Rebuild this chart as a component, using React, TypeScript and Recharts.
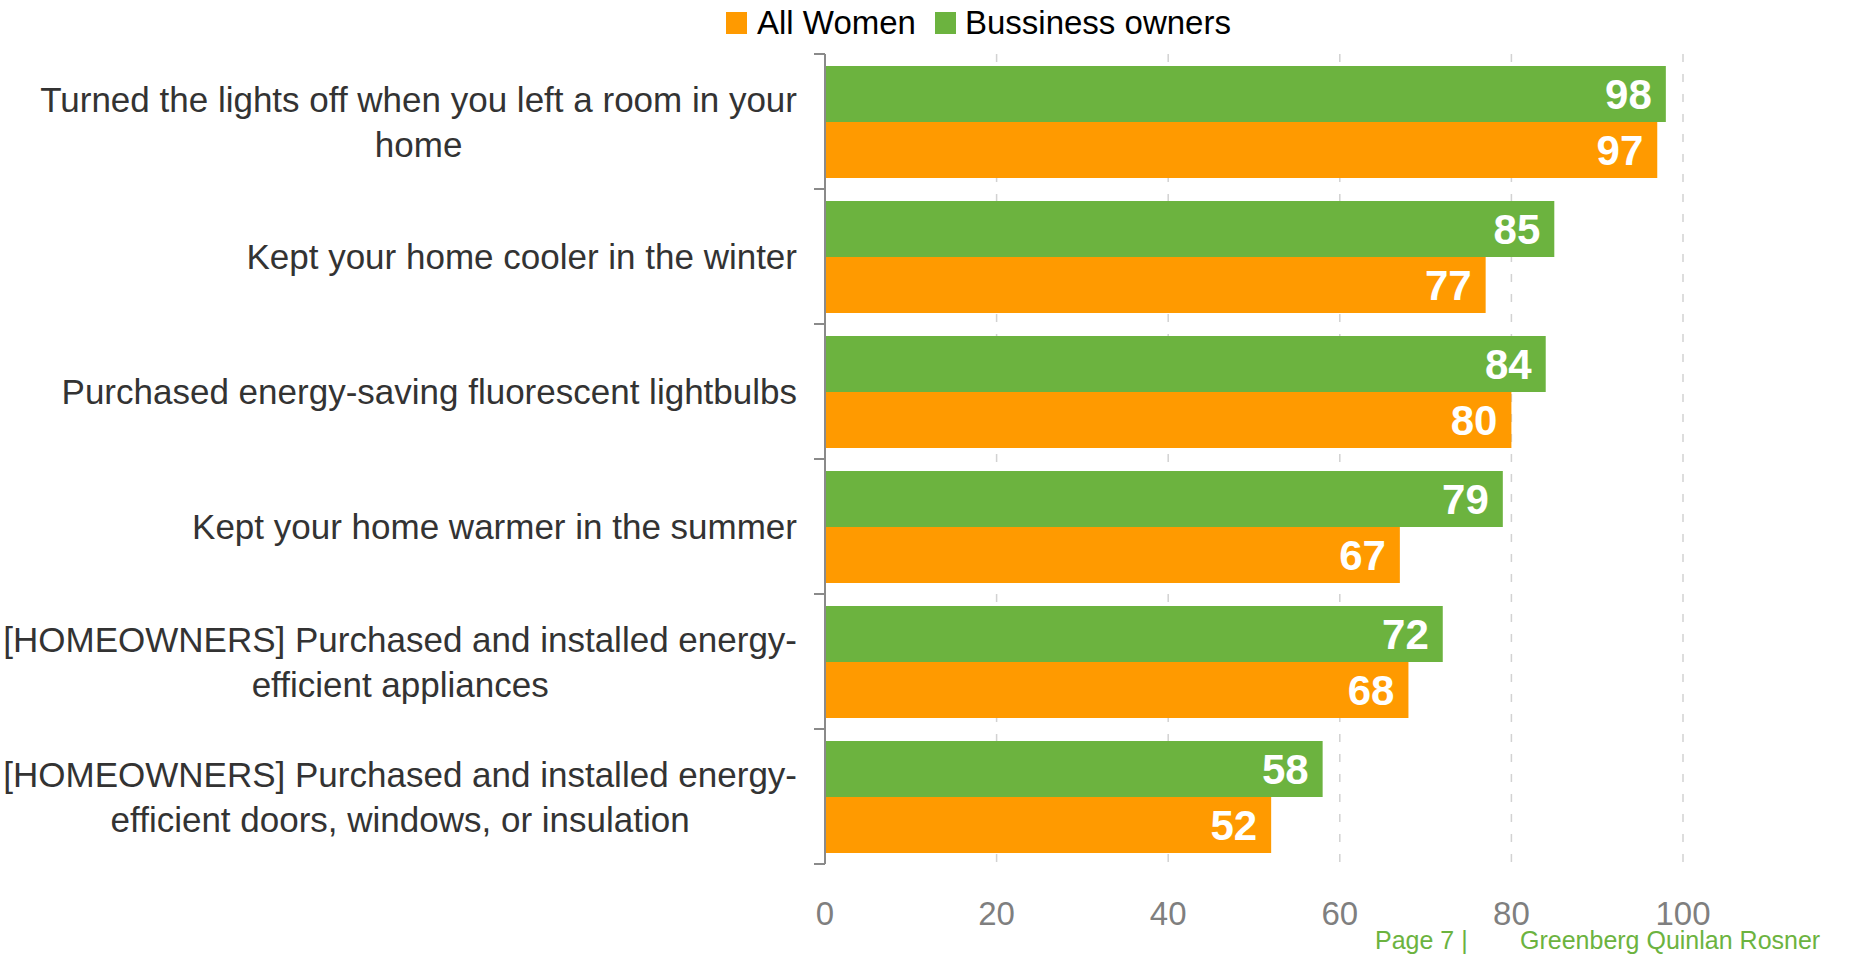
import { BarChart, Bar, XAxis, YAxis, CartesianGrid, LabelList } from 'recharts';

document.body.style.margin = '0';

const categories = [
  'Turned the lights off when you left a room in your\nhome',
  'Kept your home cooler in the winter',
  'Purchased energy-saving fluorescent lightbulbs',
  'Kept your home warmer in the summer',
  '[HOMEOWNERS] Purchased and installed energy-\nefficient appliances',
  '[HOMEOWNERS] Purchased and installed energy-\nefficient doors, windows, or insulation',
];
const allWomen = [97, 77, 80, 67, 68, 52];
const businessOwners = [98, 85, 84, 79, 72, 58];
const xTicks = [0, 20, 40, 60, 80, 100];

const data = categories.map((name, i) => ({
  name,
  women: allWomen[i],
  owners: businessOwners[i],
}));

const W = 1858;
const H = 955;
const PLOT_LEFT = 825;
const PLOT_TOP = 54;
const PLOT_BOTTOM = 864;
const PLOT_RIGHT = 1683;
const BAND = (PLOT_BOTTOM - PLOT_TOP) / categories.length;
const LABEL_RIGHT = 797;

const FONT = '"Liberation Sans", Arial, sans-serif';
const GREEN = '#6cb33f';
const ORANGE = '#ff9a00';
const AXIS = '#8a8a8a';

const ctx = document.createElement('canvas').getContext('2d');
function measure(s: string) {
  if (!ctx) return s.length * 17;
  ctx.font = '35px "Liberation Sans"';
  return ctx.measureText(s).width;
}

function CategoryTick(props: any) {
  const { y, payload } = props;
  const lines = String(payload.value).split('\n');
  const widest = Math.max(...lines.map(measure));
  const cx = LABEL_RIGHT - widest / 2;
  const gap = 45;
  const first = -((lines.length - 1) * gap) / 2;
  const isLast = payload.value === categories[categories.length - 1];
  return (
    <g>
      <line x1={PLOT_LEFT - 11} x2={PLOT_LEFT} y1={y - BAND / 2} y2={y - BAND / 2} stroke={AXIS} strokeWidth={2} />
      {isLast && (
        <line x1={PLOT_LEFT - 11} x2={PLOT_LEFT} y1={y + BAND / 2} y2={y + BAND / 2} stroke={AXIS} strokeWidth={2} />
      )}
      <text textAnchor="middle" fontSize={35} fill="#333333" fontFamily={FONT}>
        {lines.map((l, i) => (
          <tspan key={i} x={cx} y={y + first + i * gap + 12.5}>
            {l}
          </tspan>
        ))}
      </text>
    </g>
  );
}

export default function App() {
  return (
    <div style={{ position: 'relative', width: W, height: H, fontFamily: FONT, overflow: 'hidden', background: '#fff' }}>
      {/* Legend */}
      <div style={{ position: 'absolute', top: 4, left: 726, display: 'flex', alignItems: 'center', fontSize: 33, color: '#000', lineHeight: '38px' }}>
        <span style={{ width: 21, height: 22, background: ORANGE, display: 'inline-block', marginRight: 10 }} />
        <span style={{ marginRight: 19 }}>All Women</span>
        <span style={{ width: 21, height: 22, background: GREEN, display: 'inline-block', marginRight: 9 }} />
        <span>Bussiness owners</span>
      </div>

      <BarChart
        width={W}
        height={H}
        data={data}
        layout="vertical"
        margin={{ top: PLOT_TOP, right: W - PLOT_RIGHT, bottom: 0, left: 0 }}
        barCategoryGap={12}
        barGap={0}
      >
        <CartesianGrid horizontal={false} stroke="#d2d2d2" strokeWidth={1.5} strokeDasharray="8 12" />
        <XAxis
          type="number"
          domain={[0, 100]}
          ticks={xTicks}
          axisLine={false}
          tickLine={false}
          tickMargin={32}
          height={H - PLOT_BOTTOM}
          tick={{ fill: '#7f7f7f', fontSize: 33, fontFamily: FONT }}
        />
        <YAxis
          type="category"
          dataKey="name"
          width={PLOT_LEFT}
          interval={0}
          tickLine={false}
          axisLine={{ stroke: AXIS, strokeWidth: 2 }}
          tick={<CategoryTick />}
        />
        <Bar dataKey="owners" name="Bussiness owners" fill={GREEN} isAnimationActive={false}>
          <LabelList dataKey="owners" position="insideRight" offset={14} fill="#fff" fontSize={42} fontWeight="bold" fontFamily={FONT} />
        </Bar>
        <Bar dataKey="women" name="All Women" fill={ORANGE} isAnimationActive={false}>
          <LabelList dataKey="women" position="insideRight" offset={14} fill="#fff" fontSize={42} fontWeight="bold" fontFamily={FONT} />
        </Bar>
      </BarChart>

      {/* Footer */}
      <div style={{ position: 'absolute', top: 928, left: 1375, fontSize: 25, lineHeight: '25px', color: GREEN, whiteSpace: 'nowrap' }}>
        Page 7 |
      </div>
      <div style={{ position: 'absolute', top: 928, left: 1520, fontSize: 25, lineHeight: '25px', color: GREEN, whiteSpace: 'nowrap' }}>
        Greenberg Quinlan Rosner
      </div>
    </div>
  );
}
